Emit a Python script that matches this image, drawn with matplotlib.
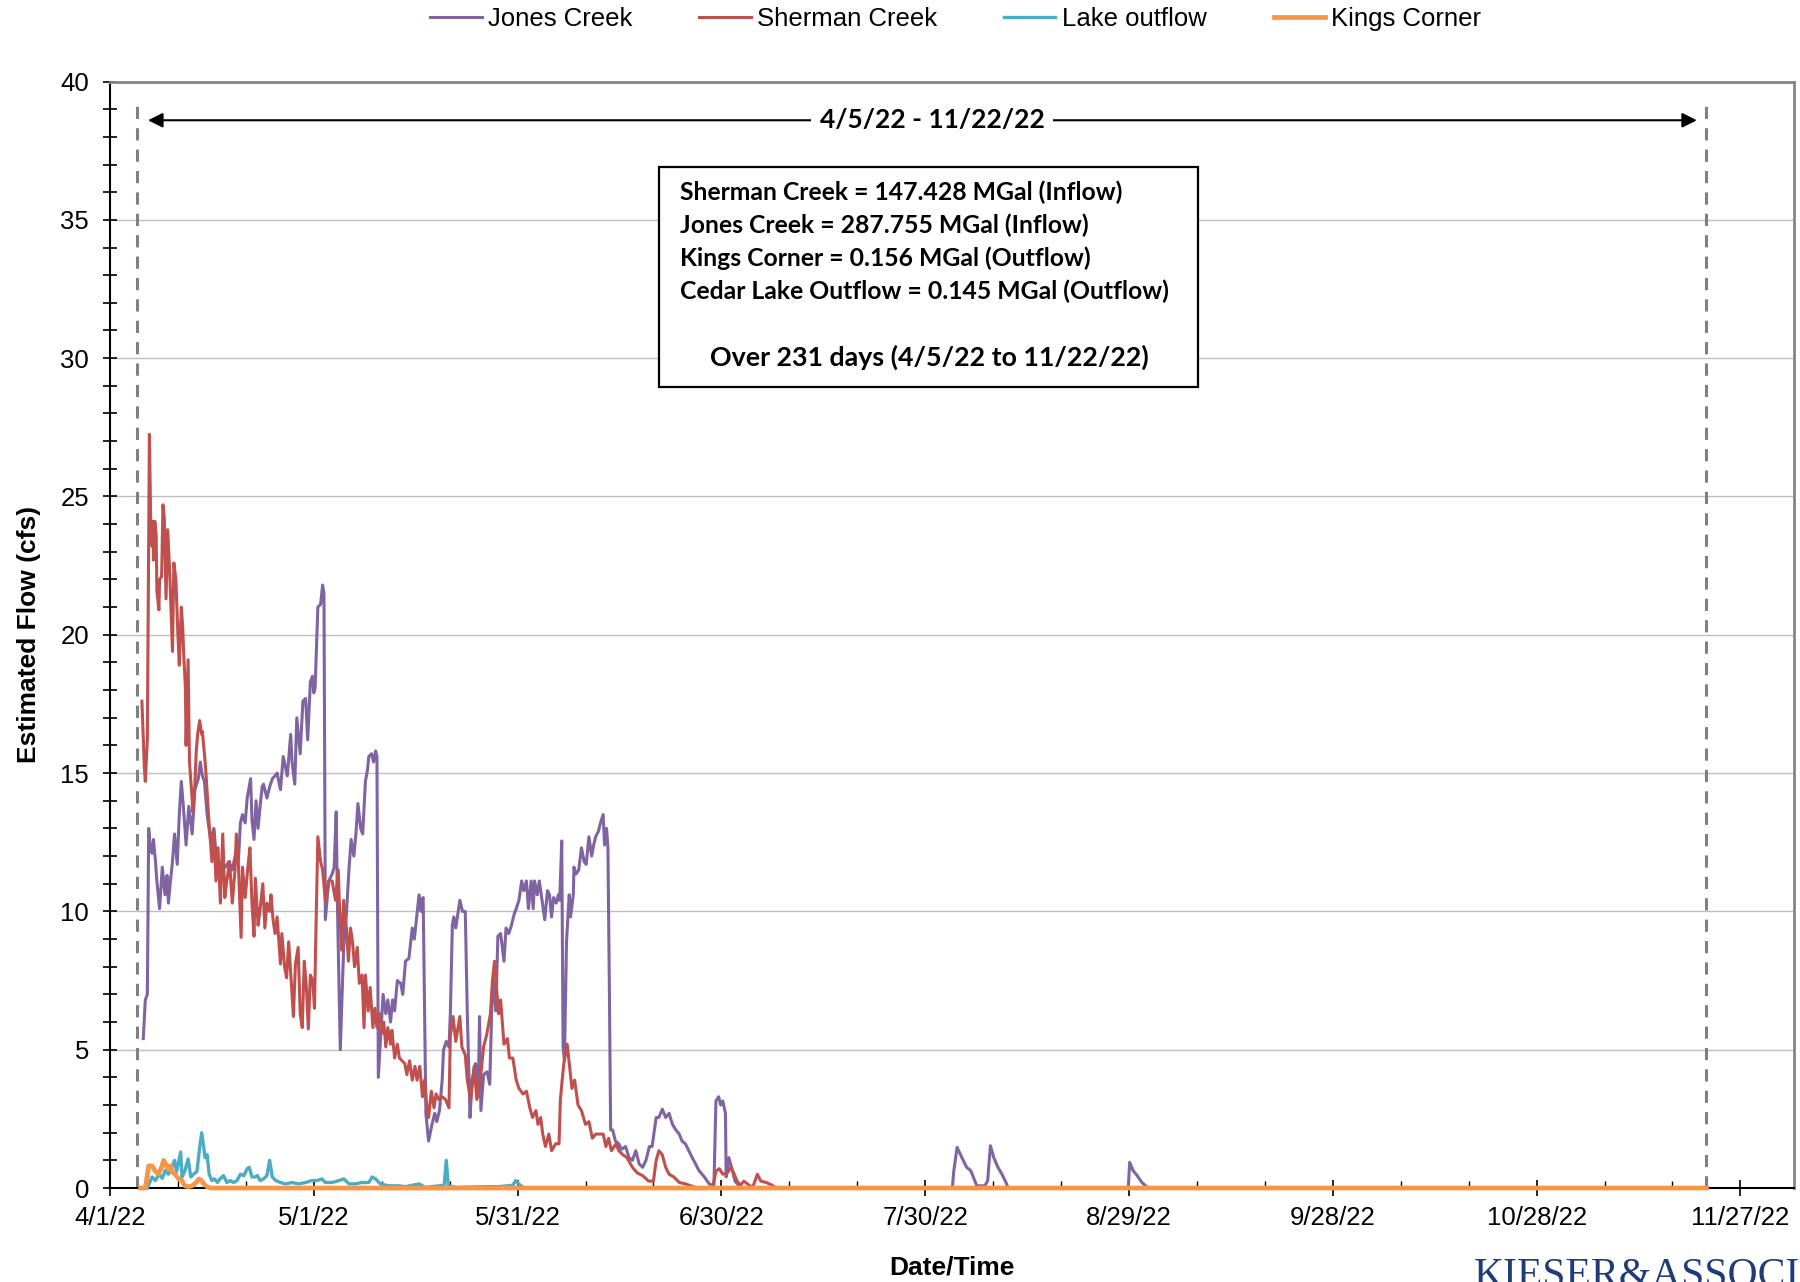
import matplotlib
matplotlib.use("Agg")
import matplotlib.pyplot as plt
import matplotlib.dates as mdates
from matplotlib import font_manager
from matplotlib.patches import Rectangle
import numpy as np
import pandas as pd

START = pd.Timestamp("2022-04-01")

# flow records, days after 4/1/22 and cfs
sherman_days = [4.7, 5.06, 5.2, 5.5, 5.8, 6.0, 6.2, 6.33, 6.4, 6.6, 6.8, 6.9, 7.2, 7.3, 7.6, 7.8, 8.0, 8.25, 8.5, 8.8,
                9.2, 9.4, 9.7, 10.0, 10.2, 10.5, 10.7, 10.85, 11.1, 11.2, 11.5, 11.7, 12.0, 12.2, 12.5, 12.7, 12.9, 13.2,
                13.5, 13.6, 13.9, 14.1, 14.5, 15.0, 15.3, 15.6, 15.9, 16.25, 16.6, 16.9, 17.2, 17.6, 18.0, 18.4, 18.6,
                18.9, 19.3, 19.5, 19.9, 20.3, 20.6, 20.9, 21.2, 21.4, 21.8, 22.1, 22.5, 22.8, 23.1, 23.5, 23.7, 24.0,
                24.3, 24.6, 25.1, 25.3, 25.7, 26.0, 26.3, 26.7, 27.0, 27.3, 27.7, 28.0, 28.3, 28.6, 28.9, 29.2, 29.5,
                29.85, 30.1, 30.3, 30.6, 31.0, 31.3, 31.7, 32.2, 32.7, 33.2, 33.6, 33.8, 34.1, 34.4, 34.8, 35.1, 35.4,
                35.7, 36.0, 36.4, 36.7, 37.1, 37.4, 37.6, 38.0, 38.3, 38.7, 39.0, 39.3, 39.7, 40.0, 40.3, 40.6, 40.9,
                41.3, 41.5, 41.9, 42.3, 42.6, 43.0, 43.4, 43.7, 44.1, 44.5, 44.9, 45.2, 45.6, 46.0, 46.3, 46.7, 46.9,
                47.3, 47.7, 48.0, 48.4, 48.9, 49.4, 49.9, 50.1, 50.5, 50.9, 51.5, 51.8, 52.3, 52.6, 53.1, 53.6, 54.0,
                54.5, 55.0, 55.5, 56.0, 56.3, 56.6, 56.9, 57.2, 57.5, 58.0, 58.5, 58.8, 59.3, 59.8, 60.2, 60.8, 61.3,
                61.8, 62.2, 62.7, 63.0, 63.4, 63.7, 64.1, 64.6, 65.0, 65.6, 66.1, 66.3, 66.8, 67.3, 67.6, 68.0, 68.4,
                68.9, 69.4, 70.0, 70.5, 71.0, 71.5, 72.0, 72.6, 73.0, 73.4, 73.8, 74.5, 74.9, 75.5, 76.1, 76.9, 77.6,
                78.4, 79.3, 80.0, 80.4, 80.8, 81.3, 81.8, 82.3, 83.0, 83.8, 84.7, 86.2, 88.7, 89.2, 89.7, 90.2, 90.9,
                91.4, 91.9, 92.3, 92.8, 93.3, 94.1, 94.6, 95.3, 95.8, 96.6, 97.5, 98.0, 235.0]
sherman_cfs = [17.6, 15.2, 14.7, 16.2, 27.25, 24.0, 23.2, 24.1, 22.7, 24.1, 23.6, 21.6, 20.9, 22.0, 22.1, 24.7, 24.2,
               21.3, 23.8, 22.2, 19.4, 22.6, 22.0, 20.0, 18.9, 21.0, 20.3, 19.3, 18.1, 16.0, 19.1, 15.4, 14.4, 13.6,
               14.6, 15.8, 16.4, 16.9, 16.4, 16.5, 15.7, 15.1, 13.5, 11.8, 12.9, 11.1, 12.3, 10.3, 12.8, 10.5, 11.1,
               11.8, 10.3, 11.5, 12.8, 11.7, 9.06, 11.6, 10.5, 11.6, 12.3, 10.3, 9.1, 11.2, 9.5, 10.1, 11.0, 9.4, 10.3,
               10.0, 10.6, 9.7, 9.2, 9.8, 8.1, 9.2, 8.0, 7.6, 8.9, 7.4, 6.2, 8.1, 8.7, 6.3, 5.8, 8.2, 7.3, 5.75, 7.7,
               7.5, 6.5, 9.1, 12.7, 11.8, 11.5, 10.4, 11.1, 11.1, 10.4, 11.5, 10.1, 8.6, 10.4, 9.4, 8.2, 9.4, 8.9, 8.0,
               8.7, 7.4, 7.7, 5.8, 7.7, 6.4, 7.25, 5.8, 6.5, 5.8, 6.3, 5.6, 6.0, 5.1, 5.8, 5.2, 5.7, 4.7, 5.2, 4.7,
               4.6, 4.5, 4.1, 4.6, 3.9, 4.4, 3.9, 4.4, 3.3, 3.9, 2.8, 2.55, 3.5, 2.9, 3.4, 3.2, 3.3, 3.2, 2.9, 5.5,
               6.2, 5.3, 6.2, 5.1, 4.8, 3.9, 3.2, 4.4, 3.2, 3.9, 5.1, 5.6, 6.3, 7.5, 8.2, 7.25, 6.3, 6.8, 5.2, 5.4,
               4.7, 4.7, 3.9, 3.6, 3.4, 3.5, 2.9, 2.55, 2.8, 2.3, 2.55, 1.95, 1.5, 1.95, 1.35, 1.6, 1.6, 3.2, 4.5,
               5.2, 4.5, 3.6, 3.9, 3.0, 2.8, 2.3, 2.4, 1.8, 1.95, 1.95, 1.95, 1.5, 1.8, 1.35, 1.6, 1.35, 1.2, 1.1,
               0.75, 0.55, 0.45, 0.25, 0.25, 1.0, 1.35, 1.2, 0.75, 0.5, 0.4, 0.2, 0.15, 0.02, 0.0, 0.6, 0.7, 0.5,
               0.55, 0.75, 0.5, 0.25, 0.1, 0.25, 0.1, 0.02, 0.5, 0.25, 0.2, 0.1, 0.0, 0.0]

jones_days = [4.9, 5.2, 5.5, 5.7, 5.9, 6.2, 6.4, 6.7, 6.9, 7.3, 7.7, 8.1, 8.4, 8.6, 8.9, 9.2, 9.5, 9.9, 10.2, 10.5,
              10.8, 11.2, 11.6, 12.1, 12.5, 13.0, 13.3, 13.6, 13.9, 14.3, 14.8, 15.3, 15.6, 16.0, 16.5, 17.0, 17.5,
              18.0, 18.5, 18.9, 19.2, 19.5, 19.9, 20.2, 20.7, 20.9, 21.2, 21.5, 21.8, 22.1, 22.4, 22.6, 23.1, 23.5,
              23.9, 24.3, 24.6, 25.1, 25.5, 26.1, 26.6, 26.8, 27.2, 27.5, 28.0, 28.4, 28.8, 29.1, 29.5, 29.8, 30.0,
              30.2, 30.6, 31.0, 31.3, 31.5, 31.7, 32.2, 32.7, 33.0, 33.3, 33.5, 33.9, 34.4, 34.8, 35.2, 35.5, 35.9,
              36.2, 36.5, 36.9, 37.2, 37.6, 37.9, 38.1, 38.5, 38.8, 39.1, 39.3, 39.5, 40.2, 40.6, 40.9, 41.3, 41.6,
              41.9, 42.3, 42.8, 43.1, 43.5, 44.0, 44.5, 44.8, 45.1, 45.5, 45.8, 45.9, 46.1, 46.5, 46.9, 47.4, 47.8,
              48.1, 48.5, 48.9, 49.1, 49.5, 49.9, 50.1, 50.4, 50.6, 50.9, 51.2, 51.5, 51.9, 52.3, 52.6, 53.0, 53.3,
              53.8, 54.2, 54.4, 54.6, 55.0, 55.5, 55.9, 56.2, 56.5, 56.8, 57.1, 57.5, 58.0, 58.3, 58.7, 59.1, 59.5,
              59.8, 60.2, 60.6, 60.9, 61.3, 61.6, 62.0, 62.3, 62.5, 62.9, 63.2, 63.6, 64.0, 64.4, 64.7, 65.0, 65.3,
              65.7, 66.0, 66.2, 66.5, 66.7, 66.9, 67.2, 67.6, 67.8, 68.2, 68.3, 68.6, 69.0, 69.4, 69.8, 70.1, 70.5,
              70.9, 71.2, 71.5, 71.9, 72.2, 72.6, 72.8, 73.1, 73.3, 73.5, 73.7, 74.0, 74.4, 74.9, 75.3, 75.9, 76.4,
              76.9, 77.4, 77.9, 78.4, 78.9, 79.4, 79.8, 80.4, 80.8, 81.3, 81.8, 82.3, 82.8, 83.3, 83.8, 84.2, 84.7,
              85.2, 85.7, 86.2, 86.7, 87.5, 88.2, 88.9, 89.2, 89.6, 89.9, 90.2, 90.6, 90.7, 91.1, 91.5, 92.0, 92.6,
              93.0, 124.0, 124.2, 124.7, 125.4, 126.1, 126.7, 127.3, 127.6, 128.8, 129.2, 129.6, 130.1, 130.7, 131.3,
              131.9, 132.2, 149.9, 150.1, 150.6, 151.2, 151.9, 152.6, 153.0, 235.0]
jones_cfs = [5.4, 6.8, 7.0, 13.0, 12.4, 12.1, 12.6, 11.8, 11.1, 10.1, 11.6, 10.6, 11.3, 10.3, 11.1, 11.8, 12.8, 11.7,
             13.5, 14.7, 13.8, 12.4, 13.8, 12.8, 14.4, 14.8, 15.4, 14.9, 14.7, 13.5, 12.6, 13.0, 12.1, 11.5, 11.8,
             11.6, 11.8, 11.5, 12.1, 11.8, 13.2, 13.5, 13.2, 14.1, 14.8, 13.3, 12.6, 14.0, 13.0, 13.8, 14.5, 14.6,
             14.1, 14.5, 14.8, 14.9, 15.0, 14.4, 15.6, 14.9, 16.4, 15.4, 14.6, 17.0, 15.7, 17.6, 17.7, 16.2, 18.3,
             18.5, 17.9, 18.1, 21.0, 21.1, 21.8, 21.5, 9.7, 11.1, 11.35, 11.6, 13.6, 10.0, 5.0, 8.7, 9.9, 11.6, 12.6,
             12.0, 12.8, 13.9, 13.0, 12.8, 14.7, 15.1, 15.6, 15.7, 15.4, 15.8, 15.6, 4.0, 7.0, 6.3, 6.8, 6.0, 6.8,
             6.4, 7.5, 7.4, 7.0, 8.2, 8.3, 9.4, 9.0, 9.7, 10.6, 10.0, 10.4, 10.5, 2.7, 1.7, 2.3, 2.7, 2.4, 2.8, 3.9,
             5.0, 5.3, 5.1, 6.3, 9.5, 9.8, 9.4, 9.9, 10.4, 10.0, 10.0, 6.3, 2.55, 3.9, 4.5, 3.3, 6.2, 2.8, 4.1, 4.2,
             3.75, 6.5, 7.5, 6.4, 9.1, 9.2, 8.2, 9.4, 9.2, 9.5, 9.9, 10.1, 10.4, 11.1, 10.75, 11.1, 10.1, 11.1, 10.1,
             11.1, 10.6, 11.1, 10.4, 9.7, 10.75, 10.6, 9.8, 10.5, 10.3, 10.6, 10.4, 12.55, 5.1, 4.6, 8.9, 10.6, 9.8,
             10.6, 11.6, 11.35, 11.5, 12.3, 11.8, 11.7, 12.7, 12.0, 12.4, 12.7, 12.9, 13.2, 13.5, 12.4, 13.0, 12.3,
             7.5, 2.1, 2.1, 1.7, 1.6, 1.4, 1.5, 1.1, 1.0, 1.35, 0.87, 0.75, 1.0, 1.5, 1.5, 2.55, 2.55, 2.85, 2.55,
             2.7, 2.3, 2.1, 1.95, 1.7, 1.6, 1.35, 1.1, 0.87, 0.63, 0.4, 0.15, 0.08, 3.15, 3.3, 3.0, 3.15, 2.7, 0.4,
             1.1, 0.75, 0.25, 0.08, 0.0, 0.0, 0.6, 1.47, 1.1, 0.75, 0.63, 0.27, 0.08, 0.08, 0.27, 1.53, 1.1, 0.75,
             0.5, 0.2, 0.0, 0.0, 0.93, 0.63, 0.45, 0.2, 0.05, 0.0, 0.0]

lake_days = [5.5, 6.2, 6.7, 7.2, 7.7, 8.1, 8.6, 9.1, 9.5, 9.8, 10.4, 10.6, 11.0, 11.5, 11.9, 12.3, 12.8, 13.2, 13.5,
             13.8, 14.0, 14.3, 14.6, 15.0, 15.4, 15.8, 16.2, 16.7, 17.2, 17.7, 18.2, 18.7, 19.2, 19.7, 20.2, 20.5,
             20.9, 21.4, 21.7, 22.1, 22.6, 23.1, 23.5, 23.9, 24.4, 25.1, 25.8, 26.8, 27.8, 28.8, 29.7, 30.5, 31.2,
             31.7, 32.7, 33.7, 34.4, 35.2, 36.1, 37.1, 38.1, 38.6, 39.1, 39.8, 41.0, 42.5, 43.5, 45.5, 46.4, 48.4,
             49.2, 49.5, 49.8, 51.0, 55.3, 57.2, 59.3, 59.7, 60.3, 61.0, 235.0]
lake_cfs = [0.0, 0.4, 0.27, 0.5, 0.35, 0.63, 0.5, 0.75, 1.0, 0.6, 1.3, 0.4, 0.6, 1.05, 0.4, 0.5, 0.6, 1.47, 2.0, 1.47,
            1.1, 1.2, 0.5, 0.27, 0.33, 0.2, 0.33, 0.45, 0.2, 0.27, 0.2, 0.27, 0.5, 0.45, 0.7, 0.75, 0.4, 0.4, 0.45,
            0.27, 0.33, 0.45, 1.0, 0.4, 0.27, 0.2, 0.15, 0.2, 0.15, 0.2, 0.27, 0.27, 0.33, 0.2, 0.2, 0.27, 0.33,
            0.15, 0.15, 0.2, 0.2, 0.4, 0.33, 0.15, 0.08, 0.08, 0.05, 0.15, 0.02, 0.08, 0.1, 1.0, 0.08, 0.02, 0.05,
            0.05, 0.1, 0.27, 0.12, 0.0, 0.0]

kings_days = [4.5, 5.2, 5.7, 6.2, 6.6, 7.1, 7.6, 7.9, 8.2, 8.5, 8.9, 9.2, 9.6, 10.1, 10.6, 11.0, 11.5, 12.1, 12.7,
              13.1, 13.5, 13.8, 14.3, 14.8, 235.0]
kings_cfs = [0.0, 0.0, 0.8, 0.8, 0.63, 0.5, 0.75, 1.0, 0.87, 0.7, 0.8, 0.57, 0.5, 0.33, 0.27, 0.08, 0.05, 0.08, 0.2,
             0.33, 0.27, 0.15, 0.05, 0.0, 0.0]

tick_days = [0, 30, 60, 90, 120, 150, 180, 210, 240]
tick_labels = ["4/1/22", "5/1/22", "5/31/22", "6/30/22", "7/30/22", "8/29/22", "9/28/22", "10/28/22", "11/27/22"]

period_start, period_end = 4.0, 235.0
period_label = "4/5/22 - 11/22/22"
summary_lines = ["Sherman Creek = 147.428 MGal (Inflow)",
                 "Jones Creek = 287.755 MGal (Inflow)",
                 "Kings Corner = 0.156 MGal (Outflow)",
                 "Cedar Lake Outflow = 0.145 MGal (Outflow)"]
summary_footer = "Over 231 days (4/5/22 to 11/22/22)"


def to_dates(days):
    return START + pd.to_timedelta(np.asarray(days, dtype=float), unit="D")


def dnum(day):
    return mdates.date2num(START + pd.Timedelta(days=day))


names = {f.name for f in font_manager.fontManager.ttflist}
NARROW = "Liberation Sans Narrow" if "Liberation Sans Narrow" in names else "Liberation Sans"
BOXFONT = "Lato" if "Lato" in names else "DejaVu Sans"

fig = plt.figure(figsize=(18, 12.82), dpi=100)
ax = fig.add_axes([0.0611, 0.0733, 0.9356, 0.8631])

series = [("Jones Creek", jones_days, jones_cfs, "#8064A2", 2.2),
          ("Sherman Creek", sherman_days, sherman_cfs, "#C0504D", 2.2),
          ("Lake outflow", lake_days, lake_cfs, "#4BACC6", 2.4),
          ("Kings Corner", kings_days, kings_cfs, "#F79646", 3.4)]
handles = []
for z, (name, d, v, col, lw) in enumerate(series):
    ln, = ax.plot(to_dates(d), v, color=col, lw=lw, label=name, zorder=3 + z,
                  solid_joinstyle="round", clip_on=False)
    handles.append(ln)

ax.set_xlim(dnum(0), dnum(247.9))
ax.set_ylim(0, 40)

ax.set_xticks([dnum(t) for t in tick_days])
ax.set_xticklabels(tick_labels)
ax.set_xticks([dnum(t) for t in range(0, 248, 10) if t % 30 != 0], minor=True)
ax.set_yticks(range(0, 41, 5))
ax.set_yticks(range(0, 41, 1), minor=True)

ax.tick_params(axis="x", which="major", direction="inout", length=12, width=1.2, pad=7)
ax.tick_params(axis="x", which="minor", direction="in", length=5, width=1)
ax.tick_params(axis="y", which="both", direction="inout", length=10, width=1.2, pad=10)
for lbl in ax.get_xticklabels() + ax.get_yticklabels():
    lbl.set_fontfamily(NARROW)
    lbl.set_fontsize(18.5)

ax.yaxis.grid(True, which="major", color="#BFBFBF", lw=1)
ax.set_axisbelow(True)
for s in ["left", "bottom"]:
    ax.spines[s].set_color("black")
    ax.spines[s].set_linewidth(1.5)
for s in ["top", "right"]:
    ax.spines[s].set_color("#868686")
    ax.spines[s].set_linewidth(2)

ax.set_ylabel("Estimated Flow (cfs)", fontfamily=NARROW, fontsize=19, fontweight="bold", labelpad=14)
ax.set_xlabel("Date/Time", fontfamily=NARROW, fontsize=19, fontweight="bold", labelpad=18)

# period markers and arrow
for d in (period_start, period_end):
    ax.plot([dnum(d), dnum(d)], [0, 39.1], color="#808080", lw=2.2, ls=(0, (4, 3)), zorder=2)
ax.annotate("", xy=(dnum(5.6), 38.6), xytext=(dnum(233.6), 38.6),
            arrowprops=dict(arrowstyle="<|-|>", color="black", lw=1.5, mutation_scale=22, shrinkA=0, shrinkB=0))
ax.text(dnum(121.0), 38.6, period_label, ha="center", va="center", fontsize=19, fontweight="bold",
        fontfamily=BOXFONT, bbox=dict(facecolor="white", edgecolor="none", pad=6), zorder=6)

# summary box
x0, x1 = dnum(80.8), dnum(160.2)
ax.add_patch(Rectangle((x0, 28.96), x1 - x0, 36.9 - 28.96, facecolor="white", edgecolor="black", lw=1.6, zorder=6))
for i, line in enumerate(summary_lines):
    ax.text(dnum(83.9), 36.0 - i * 1.2, line, ha="left", va="center", fontsize=17.8, fontweight="bold",
            fontfamily=BOXFONT, zorder=7)
ax.text(dnum(120.6), 30.04, summary_footer, ha="center", va="center", fontsize=19.3, fontweight="bold",
        fontfamily=BOXFONT, zorder=7)

fig.legend(handles=handles, loc="center", bbox_to_anchor=(0.531, 0.985), ncol=4, frameon=False,
           prop={"family": NARROW, "size": 18.5}, handlelength=2.0, handletextpad=0.25, columnspacing=2.6)

fig.text(0.819, 0.0195, "KIESER&ASSOCIATES", ha="left", va="top", fontsize=30, color="#1F3C78",
         fontfamily="Liberation Serif")

fig.savefig("out.png", dpi=100)
